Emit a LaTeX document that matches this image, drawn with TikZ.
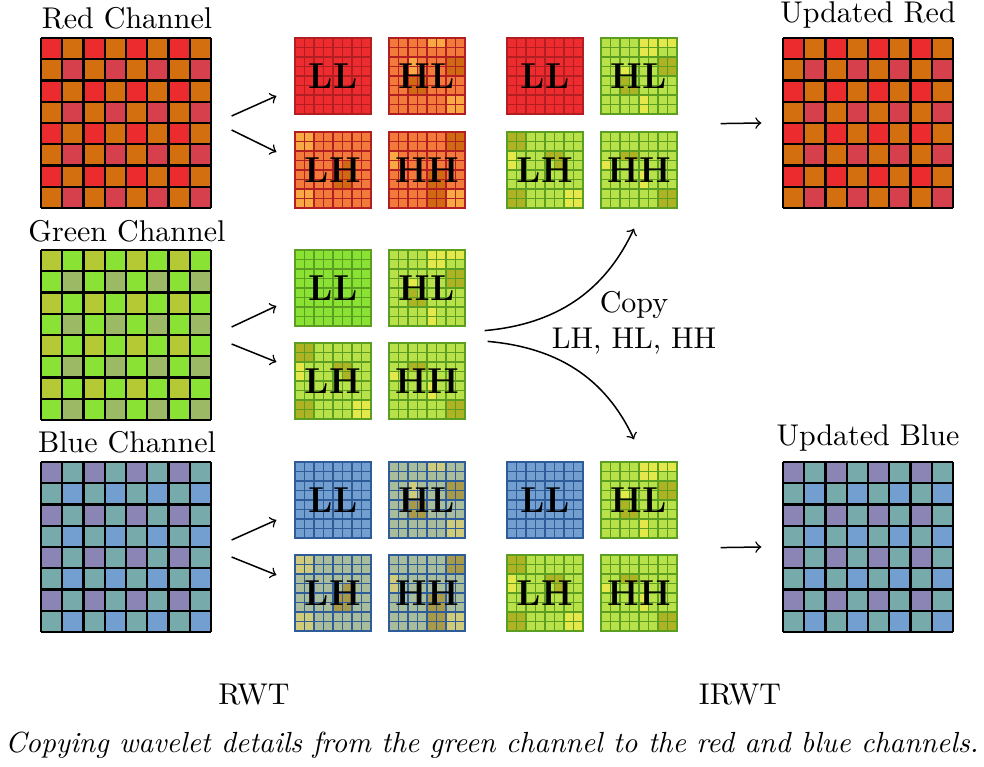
\documentclass[tikz,border=0pt]{standalone}
\usepackage{xcolor}
\usepackage{tikz}
\usepackage{amsmath}
\usetikzlibrary{shapes, arrows, positioning}

% big channel grids
\definecolor{redA}{HTML}{EC2B2F}
\definecolor{redB}{HTML}{D46F10}
\definecolor{redC}{HTML}{D63F4C}
\definecolor{grnA}{HTML}{B5C934}
\definecolor{grnB}{HTML}{8AE234}
\definecolor{grnC}{HTML}{9CBA66}
\definecolor{bluA}{HTML}{8A85B4}
\definecolor{bluB}{HTML}{77AAAA}
\definecolor{bluC}{HTML}{729FCF}
% subband tiles
\definecolor{rLLf}{HTML}{EE2B2F}
\definecolor{rLine}{HTML}{B21F22}
\definecolor{rBase}{HTML}{F27B3B}
\definecolor{rLight}{HTML}{F8A944}
\definecolor{rDark}{HTML}{CF6A12}
\definecolor{gLLf}{HTML}{8AE234}
\definecolor{gLine}{HTML}{5C9E22}
\definecolor{gBase}{HTML}{B9E24A}
\definecolor{gLight}{HTML}{E5E84B}
\definecolor{gDark}{HTML}{AEB323}
\definecolor{bLLf}{HTML}{729FCF}
\definecolor{bLine}{HTML}{2D5C99}
\definecolor{bBase}{HTML}{A9BD9C}
\definecolor{bLight}{HTML}{CFCB7A}
\definecolor{bDark}{HTML}{A99A4A}

% cells that stand out in the detail bands (column/row)
\def\hlL{4/0,5/0,2/2,2/3,6/6,7/6,6/7,7/7}
\def\hlD{6/2,7/2,6/3,7/3,2/4,3/4,2/5,3/5}
\def\lhL{0/0,1/0,0/1,1/1,0/6,1/6,0/7,1/7}
\def\lhD{5/3,4/4,5/4,4/5,5/5}
\def\hhL{0/2,0/3,6/6,7/6,6/7,7/7}
\def\hhD{6/0,7/0,6/1,7/1,4/4,5/4,4/5,5/5,4/6,5/6,4/7,5/7}
\def\ghlL{4/0,5/0,6/0,7/0,4/1,5/1,2/3,4/6,4/7}
\def\ghlD{6/2,7/2,6/3,7/3,2/4,2/5,3/5}
\def\glhL{0/2,0/3,6/6,7/6,6/7,7/7}
\def\glhD{0/0,1/0,0/1,1/1,0/6,1/6,0/7,1/7,4/2,5/2,5/3}
\def\ghhL{4/4,4/5,0/3}
\def\ghhD{2/2,3/2,6/6,7/6,6/7,7/7}

% 8x8 checker grid: x, y, colours A, B, C
\newcommand{\chgrid}[5]{%
  \foreach \i in {0,...,7}{
    \foreach \j in {0,...,7}{
      \pgfmathtruncatemacro{\k}{mod(\i,2)+mod(\j,2)}
      \ifcase\k \def\cc{#3}\or \def\cc{#4}\else \def\cc{#5}\fi
      \fill[\cc] ({#1+\i*21.25},{#2+\j*21.25}) rectangle +(21.25,21.25);
    }
  }
  \foreach \t in {0,...,8}{
    \draw[line width=0.8pt] ({#1+\t*21.25},#2) -- +(0,170);
    \draw[line width=0.8pt] (#1,{#2+\t*21.25}) -- +(170,0);
  }
}
% plain LL tile: x, y, fill, line
\newcommand{\lltile}[4]{%
  \fill[#3] (#1,#2) rectangle +(76,76);
  \foreach \t in {1,...,7}{
    \draw[#4, line width=0.35pt] ({#1+\t*9.5},#2) -- +(0,76);
    \draw[#4, line width=0.35pt] (#1,{#2+\t*9.5}) -- +(76,0);
  }
  \draw[#4, line width=0.6pt] (#1,#2) rectangle +(76,76);
}
% detail tile: x, y, base, light, dark, line, light cells, dark cells
\newcommand{\tile}[8]{%
  \fill[#3] (#1,#2) rectangle +(76,76);
  \foreach \c/\r in #7 \fill[#4] ({#1+\c*9.5},{#2+\r*9.5}) rectangle +(9.5,9.5);
  \foreach \c/\r in #8 \fill[#5] ({#1+\c*9.5},{#2+\r*9.5}) rectangle +(9.5,9.5);
  \foreach \t in {1,...,7}{
    \draw[#6, line width=0.35pt] ({#1+\t*9.5},#2) -- +(0,76);
    \draw[#6, line width=0.35pt] (#1,{#2+\t*9.5}) -- +(76,0);
  }
  \draw[#6, line width=0.6pt] (#1,#2) rectangle +(76,76);
}

\begin{document}
\begin{tikzpicture}[x=0.3333pt, y=-0.3333pt]
  \useasboundingbox (0,0) rectangle (984,767);

  % channels
  \chgrid{41}{38}{redA}{redB}{redC}
  \chgrid{41}{250}{grnA}{grnB}{grnC}
  \chgrid{41}{462}{bluA}{bluB}{bluC}
  \chgrid{783}{38}{redA}{redB}{redC}
  \chgrid{783}{462}{bluA}{bluB}{bluC}

  % RWT bands
  \lltile{295}{38}{rLLf}{rLine}
  \tile{389}{38}{rBase}{rLight}{rDark}{rLine}\hlL\hlD
  \tile{295}{132}{rBase}{rLight}{rDark}{rLine}\lhL\lhD
  \tile{389}{132}{rBase}{rLight}{rDark}{rLine}\hhL\hhD
  \lltile{295}{250}{gLLf}{gLine}
  \tile{389}{250}{gBase}{gLight}{gDark}{gLine}\ghlL\ghlD
  \tile{295}{343}{gBase}{gLight}{gDark}{gLine}\glhL\glhD
  \tile{389}{343}{gBase}{gLight}{gDark}{gLine}\ghhL\ghhD
  \lltile{295}{462}{bLLf}{bLine}
  \tile{389}{462}{bBase}{bLight}{bDark}{bLine}\hlL\hlD
  \tile{295}{555}{bBase}{bLight}{bDark}{bLine}\lhL\lhD
  \tile{389}{555}{bBase}{bLight}{bDark}{bLine}\hhL\hhD

  % bands after copying
  \lltile{507}{38}{rLLf}{rLine}
  \tile{601}{38}{gBase}{gLight}{gDark}{gLine}\ghlL\ghlD
  \tile{507}{132}{gBase}{gLight}{gDark}{gLine}\glhL\glhD
  \tile{601}{132}{gBase}{gLight}{gDark}{gLine}\ghhL\ghhD
  \lltile{507}{462}{bLLf}{bLine}
  \tile{601}{462}{gBase}{gLight}{gDark}{gLine}\ghlL\ghlD
  \tile{507}{555}{gBase}{gLight}{gDark}{gLine}\glhL\glhD
  \tile{601}{555}{gBase}{gLight}{gDark}{gLine}\ghhL\ghhD

  \begin{scope}[every node/.style={minimum size=56.67pt,inner sep=0pt}]
  \node (red) at (126,123) {};
  \node (green) at (126,335) {};
  \node (blue) at (126,547) {};
  \node (ured) at (868,123) {};
  \node (ublue) at (868,547) {};
  \end{scope}

  \begin{scope}[every node/.style={minimum size=25.33pt,inner sep=0pt,font=\large\bfseries}]
  \node (rLL) at (333,76) {LL};
  \node (rHL) at (427,76) {HL};
  \node (rLH) at (333,170) {LH};
  \node (rHH) at (427,170) {HH};
  \node (gLL) at (333,288) {LL};
  \node (gHL) at (427,288) {HL};
  \node (gLH) at (333,381) {LH};
  \node (gHH) at (427,381) {HH};
  \node (bLL) at (333,500) {LL};
  \node (bHL) at (427,500) {HL};
  \node (bLH) at (333,593) {LH};
  \node (bHH) at (427,593) {HH};
  \node (rLL2) at (545,76) {LL};
  \node (rHL2) at (639,76) {HL};
  \node (rLH2) at (545,170) {LH};
  \node (rHH2) at (639,170) {HH};
  \node (bLL2) at (545,500) {LL};
  \node (bHL2) at (639,500) {HL};
  \node (bLH2) at (545,593) {LH};
  \node (bHH2) at (639,593) {HH};
  \end{scope}

  \node (tr) at (127,18) {Red Channel};
  \node (tg) at (127,231) {Green Channel};
  \node (tb) at (127,442) {Blue Channel};
  \node (tur) at (868,15) {Updated Red};
  \node (tub) at (868,438) {Updated Blue};
  \node[align=center] (cp) at (634,323) {Copy\\LH, HL, HH};
  \node (rwt) at (254,695) {RWT};
  \node (irwt) at (740,695) {IRWT};
  \node (cap) at (492,745) {\fontsize{9.7pt}{11pt}\selectfont\itshape Copying wavelet details from the green channel to the red and blue channels.};

  \begin{scope}[every path/.style={->,line width=0.5pt}]
  \draw ([shift={(20,-7)}]red.east) -- ([shift={(-18,20)}]rLL.west);
  \draw ([shift={(20,7)}]red.east) -- ([shift={(-18,-18)}]rLH.west);
  \draw ([shift={(20,-8)}]green.east) -- ([shift={(-18,18)}]gLL.west);
  \draw ([shift={(20,9)}]green.east) -- ([shift={(-18,-19)}]gLH.west);
  \draw ([shift={(20,-7)}]blue.east) -- ([shift={(-18,20)}]bLL.west);
  \draw ([shift={(20,10)}]blue.east) -- ([shift={(-18,-18)}]bLH.west);
  \draw ([shift={(43,9)}]rHL2.south east) -- ([shift={(-21,0)}]ured.west);
  \draw ([shift={(43,9)}]bHL2.south east) -- ([shift={(-21,0)}]ublue.west);
  \draw ([shift={(19,4)}]gHL.south east) to[out=5,in=-115] ([shift={(-5,20)}]rHH2.south);
  \draw ([shift={(22,-1)}]gHH.north east) to[out=-5,in=115] ([shift={(-5,-22)}]bHL2.north);
  \end{scope}
\end{tikzpicture}
\end{document}
